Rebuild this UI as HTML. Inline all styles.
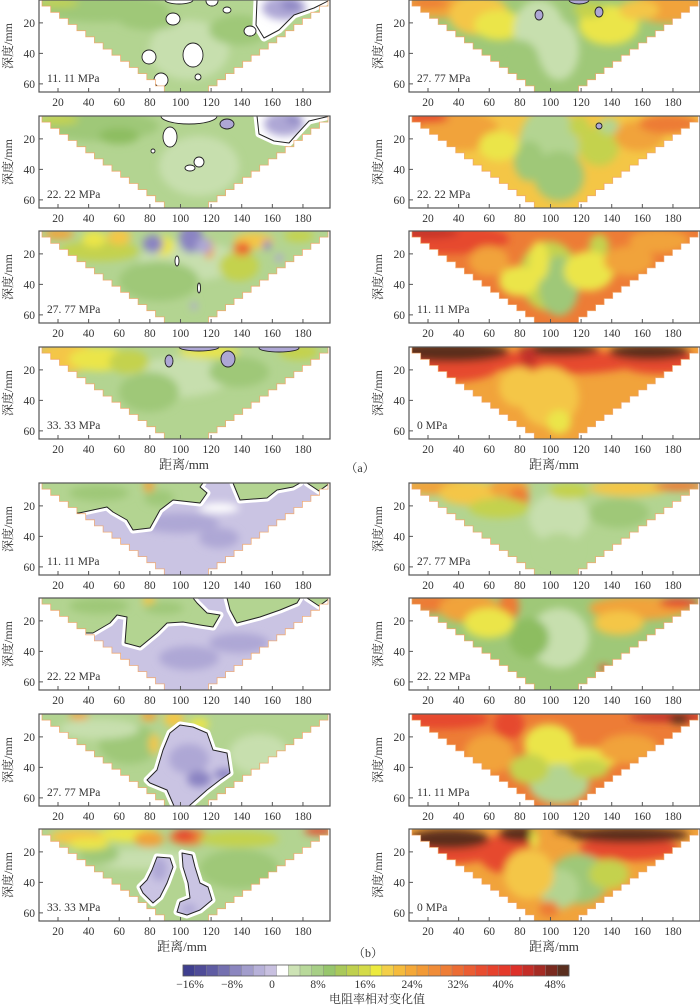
<!DOCTYPE html>
<html><head><meta charset="utf-8">
<style>
html,body{margin:0;padding:0;background:#fff;}
svg{display:block;}
text{font-family:"Liberation Serif","Noto Serif CJK SC",serif;fill:#333;}
</style></head>
<body>
<svg id="s" width="700" height="1005" viewBox="0 0 700 1005" xmlns="http://www.w3.org/2000/svg">
<defs>
<filter id="bl" filterUnits="userSpaceOnUse" x="-60" y="-60" width="420" height="220"><feGaussianBlur stdDeviation="4"/></filter>
</defs>
</svg>
<script>
const G1='#c7dfae',G2='#b3d491',G3='#9fc878',G4='#8dbd61',YG='#c4d24e',Y='#ebe548',YO='#f4c646',O='#f1a33b',OR='#ed7c36',R='#e64a2f',DR='#c2332a',BR='#5b2d1f',P1='#cac4e3',P2='#aea7d5',P3='#8a83c2',P4='#5e58a6',W='#ffffff';
const W_=291,H_=92;
function tri(){
 let pts=[],n=15;
 for(let i=0;i<n;i++){let y0=i*H_/n,y1=(i+1)*H_/n,x=3+131*i/n;pts.push([x,y0],[x,y1]);}
 let r=[];
 for(let i=n-1;i>=0;i--){let y0=i*H_/n,y1=(i+1)*H_/n,x=289-128*i/n;r.push([x,y1],[x,y0]);}
 return pts.concat(r).map(p=>p[0].toFixed(1)+','+p[1].toFixed(1)).join(' ');
}
const TRI=tri();
let id=0;
function panel(px,py,label,base,blobs,holes,polys){
 id++;
 let s=`<g transform="translate(${px},${py})">`;
 s+=`<clipPath id="c${id}"><polygon points="${TRI}"/></clipPath>`;
 s+=`<g clip-path="url(#c${id})"><rect x="0" y="0" width="${W_}" height="${H_}" fill="${base}"/><g filter="url(#bl)">`;
 for(const b of blobs)s+=`<ellipse cx="${b[0]}" cy="${b[1]}" rx="${b[2]}" ry="${b[3]}" fill="${b[4]}"/>`;
 s+=`</g>`;
 (polys||[]).forEach((p,k)=>{
  const pts=p.pts.map(q=>q.join(',')).join(' ');
  s+=`<polygon points="${pts}" fill="none" stroke="#fff" stroke-width="7" stroke-linejoin="round"/>`;
  s+=`<clipPath id="pc${id}_${k}"><polygon points="${pts}"/></clipPath>`;
  s+=`<polygon points="${pts}" fill="${p.fill}"/>`;
  if(p.inner){s+=`<g clip-path="url(#pc${id}_${k})"><g filter="url(#bl)">`;for(const b of p.inner)s+=`<ellipse cx="${b[0]}" cy="${b[1]}" rx="${b[2]}" ry="${b[3]}" fill="${b[4]}"/>`;s+=`</g></g>`;}
  s+=`<polygon points="${pts}" fill="none" stroke="#222" stroke-width="1" stroke-linejoin="round"/>`;
 });
 for(const h of (holes||[]))s+=`<ellipse cx="${h[0]}" cy="${h[1]}" rx="${h[2]}" ry="${h[3]}" fill="${h[4]||W}" stroke="#222" stroke-width="0.9"/>`;
 s+=`</g>`;
 s+=`<polygon points="${TRI}" fill="none" stroke="#f0a060" stroke-width="0.8" opacity="0.8"/>`;
 s+=`<rect x="0" y="0" width="${W_}" height="${H_}" fill="none" stroke="#555" stroke-width="1.2"/>`;
 for(let v=20;v<=180;v+=20){let x=19+(v-20)*1.531;s+=`<line x1="${x}" y1="${H_}" x2="${x}" y2="${H_-4}" stroke="#555"/>`;s+=`<text x="${x}" y="${H_+14}" font-size="11.5" text-anchor="middle">${v}</text>`;}
 for(const d of [20,40,60]){let y=(d-5)*1.525;s+=`<line x1="0" y1="${y}" x2="4" y2="${y}" stroke="#555"/>`;s+=`<text x="-4" y="${y+4}" font-size="11.5" text-anchor="end">${d}</text>`;}
 s+=`<text x="${-27}" y="${H_/2}" font-size="12" text-anchor="middle" transform="rotate(-90 ${-27} ${H_/2})">深度/mm</text>`;
 s+=`<text x="8" y="${H_-10}" font-size="11.5">${label}</text>`;
 s+=`</g>`;
 return s;
}
let out='';
const L=39,Rx=409;
// (a) left
out+=panel(L,0,'11. 11 MPa',G2,[[60,8,70,14,G3],[20,3,20,4,YG],[150,50,40,30,G1],[110,20,30,10,G3],[200,30,30,15,G3]],
 [[134,19,7,6],[154,55,10,12],[110,57,7,7],[211,31,6,5],[159,77,3,3],[140,0,14,4],[173,1,6,5],[188,10,4,3],[122,80,7,7]],
 [{pts:[[218,0],[217,25],[225,38],[240,30],[255,15],[275,8],[291,0]],fill:W,inner:[[245,8,22,12,P2],[252,5,10,5,P3]]}]);
out+=panel(L,116,'22. 22 MPa',G2,[[60,10,60,15,G3],[20,4,20,5,YG],[80,20,20,8,G4],[160,50,40,30,G1]],
 [[150,0,28,8],[131,21,7,10],[188,8,7,5,P2],[114,35,2,2],[160,46,5,5],[151,52,5,3]],
 [{pts:[[218,0],[220,18],[235,25],[250,27],[258,18],[270,5],[291,0]],fill:W,inner:[[245,8,20,12,P2],[255,3,8,4,P3]]}]);
out+=panel(L,231,'27. 77 MPa',G2,[[60,20,40,10,YG],[150,30,50,20,G1],[120,50,40,20,G3],[200,35,20,15,YG],[20,3,15,5,O],[55,8,12,8,Y],[80,6,12,8,YO],[125,15,10,10,Y],[170,18,5,10,O],[215,10,20,8,YO],[203,18,9,7,OR],[205,17,4,4,R],[260,5,15,6,YG],[114,13,10,9,P3],[152,8,12,14,P3],[165,15,8,8,P2],[228,14,4,5,P3],[240,27,4,4,P2],[155,75,3,4,P2]],
 [[138,30,2,5],[160,57,1.5,5]],[]);
out+=panel(L,347,'33. 33 MPa',G2,[[140,30,50,20,G1],[110,45,30,20,G3],[200,25,30,15,G3],[25,4,25,8,O],[30,10,30,15,YO],[60,12,30,12,Y],[90,15,20,12,YG],[260,5,20,8,YG],[170,5,30,6,Y]],
 [[130,14,4,6,P2],[189,12,7,8,P2],[160,0,20,4,P2],[240,1,20,4,P2]],[]);
// (a) right
out+=panel(Rx,0,'27. 77 MPa',G3,[[30,6,40,12,O],[20,3,20,5,OR],[70,15,30,20,YO],[90,25,25,15,Y],[130,30,25,30,G1],[150,50,20,30,G1],[200,25,30,20,Y],[260,8,40,15,O],[230,10,20,10,YO],[180,10,15,8,YG],[110,60,20,20,G3]],
 [[130,15,4,5,P2],[190,12,4,5,P2],[170,0,10,4,P2]],[]);
out+=panel(Rx,116,'22. 22 MPa',YO,[[30,5,40,15,OR],[50,15,40,20,O],[20,2,20,5,R],[140,30,30,40,G2],[150,60,25,25,G3],[120,45,15,20,G3],[190,30,20,20,YG],[230,20,25,15,O],[260,8,30,10,OR],[200,10,10,8,G2],[90,30,20,15,Y],[170,10,10,10,YG]],[[190,10,3,3,P2]],[]);
out+=panel(Rx,231,'11. 11 MPa',OR,[[40,8,60,15,R],[20,2,30,5,DR],[140,45,30,35,YG],[150,55,20,30,G3],[130,30,10,20,Y],[190,15,10,12,YG],[110,50,20,15,Y],[250,10,30,12,O],[180,40,25,20,Y],[80,30,20,15,O],[220,30,25,15,O]],[],[]);
out+=panel(Rx,347,'0 MPa',O,[[40,20,50,15,R],[150,15,80,12,R],[250,15,40,12,R],[40,5,60,10,BR],[150,3,40,6,BR],[240,5,40,8,BR],[140,50,30,30,YO],[110,40,20,20,YO],[150,75,12,12,Y],[120,10,8,10,DR]],[],[]);
// (b) left
out+=panel(L,483,'11. 11 MPa',P1,[[140,40,40,10,P2],[180,55,20,10,P2],[180,25,20,5,W]],[],
 [{pts:[[0,0],[164,0],[161,4],[168,10],[161,20],[134,17],[121,27],[111,45],[94,47],[88,37],[74,29],[68,24],[40,30],[0,30]],fill:G2,inner:[[110,3,5,7,O],[60,10,30,8,G3],[120,15,15,8,G3]]},
  {pts:[[194,0],[201,17],[228,15],[238,7],[254,4],[261,0]],fill:G2},
  {pts:[[268,0],[291,0],[280,8]],fill:G2}]);
out+=panel(L,598,'22. 22 MPa',P1,[[150,60,30,12,P2],[200,45,30,10,P2]],[],
 [{pts:[[0,0],[154,0],[158,5],[168,15],[181,17],[174,29],[161,27],[144,24],[128,25],[118,35],[101,49],[86,45],[88,19],[78,17],[71,25],[54,35],[0,35]],fill:G2,inner:[[110,3,6,6,YO],[60,8,30,8,G3],[125,10,20,6,G3]]},
  {pts:[[188,0],[191,12],[198,25],[221,19],[241,12],[258,5],[261,0]],fill:G2},
  {pts:[[268,0],[291,0],[280,8]],fill:G2}]);
out+=panel(L,714,'27. 77 MPa',G2,[[90,30,30,20,G3],[220,40,30,20,G1],[60,15,40,10,G1],[40,2,10,4,O],[110,2,8,5,O],[135,5,10,8,YO],[160,10,10,6,Y],[115,30,5,10,YO]],[],
 [{pts:[[141,11],[154,13],[168,19],[174,36],[188,39],[191,59],[181,66],[168,76],[150,92],[135,92],[128,76],[111,69],[108,66],[118,56],[124,36],[131,19]],fill:P1,inner:[[150,45,20,15,P2],[160,65,12,8,P3],[185,60,10,5,P3]]}]);
out+=panel(L,829,'33. 33 MPa',G2,[[100,30,50,10,G1],[200,40,40,20,G3],[60,25,20,10,G3],[40,8,30,8,YO],[90,5,30,8,Y],[150,8,20,8,OR],[145,6,10,6,R],[110,10,15,8,O],[50,15,20,6,Y],[200,10,40,8,YG],[280,2,15,4,R]],[],
 [{pts:[[118,28],[131,29],[134,38],[128,54],[121,68],[114,74],[104,64],[101,58],[108,51],[113,41]],fill:P1,inner:[[120,40,8,12,P2]]},
  {pts:[[143,24],[153,26],[156,38],[161,54],[169,58],[173,71],[161,81],[148,86],[138,83],[141,73],[151,69],[149,54],[144,38]],fill:P1,inner:[[150,80,8,5,P2]]}]);
// (b) right
out+=panel(Rx,483,'27. 77 MPa',G2,[[150,35,30,25,G1],[80,20,20,10,G3],[210,30,30,15,G3],[150,65,20,15,G2],[30,4,40,8,O],[60,10,30,12,YO],[100,5,20,10,O],[110,15,10,10,OR],[160,8,20,8,YG],[220,5,40,8,YO],[270,3,25,5,OR],[90,25,30,10,YG]],[],[]);
out+=panel(Rx,598,'22. 22 MPa',G3,[[30,5,40,10,OR],[60,10,30,15,O],[100,8,10,15,OR],[80,25,25,15,Y],[150,40,30,30,G1],[230,10,50,12,O],[270,5,20,5,R],[210,25,25,12,YO],[120,40,20,20,G4],[195,70,6,3,R]],[],[]);
out+=panel(Rx,714,'11. 11 MPa',OR,[[30,5,50,10,R],[100,10,15,15,R],[260,3,40,5,DR],[270,5,10,5,BR],[140,30,25,20,Y],[170,45,40,12,Y],[150,70,30,20,G2],[180,55,20,10,YG],[120,55,20,15,YG],[80,40,25,20,O],[220,35,30,15,O]],[],[]);
out+=panel(Rx,829,'0 MPa',O,[[40,20,50,15,R],[100,25,30,20,R],[220,20,50,12,R],[40,10,40,10,BR],[110,5,20,8,BR],[220,6,60,8,BR],[160,2,15,3,BR],[170,50,30,25,G3],[150,60,20,20,G2],[200,45,20,15,YG],[125,10,4,10,Y],[120,45,25,25,YO],[140,80,10,8,OR]],[],[]);
// axis labels
out+=`<text x="184" y="469" font-size="13" text-anchor="middle">距离/mm</text><text x="554" y="469" font-size="13" text-anchor="middle">距离/mm</text>`;
out+=`<text x="360" y="472" font-size="12" text-anchor="middle">（a）</text>`;
out+=`<text x="182" y="951" font-size="13" text-anchor="middle">距离/mm</text><text x="554" y="951" font-size="13" text-anchor="middle">距离/mm</text>`;
out+=`<text x="368" y="957" font-size="12" text-anchor="middle">（b）</text>`;
// colorbar
const cb=['#3f3f8f','#4f4c98','#5f5ca3','#7470b0','#8b86bf','#a29dcc','#b7b1d9','#c8c0e0','#ffffff','#cde3b5','#b8d99a','#a7cf86','#97c66c','#a9c95a','#bfd04e','#d4db48','#ecea3e','#f3cf49','#f5bb3c','#f4a838','#f29a36','#f08c38','#ee7d36','#ec6c34','#ea5d33','#e84d30','#e6422d','#e43a2b','#dd3029','#c42d27','#a52b24','#7a2a1f','#5a2e1e'];
const cx0=183,cw=386/cb.length;
cb.forEach((c,i)=>{out+=`<rect x="${(cx0+i*cw).toFixed(2)}" y="965" width="${(cw+0.3).toFixed(2)}" height="11" fill="${c}"/>`;});
for(let i=0;i<=cb.length;i++){out+=`<line x1="${(cx0+i*cw).toFixed(2)}" y1="965" x2="${(cx0+i*cw).toFixed(2)}" y2="976" stroke="#888" stroke-width="0.4"/>`;}
out+=`<rect x="${cx0}" y="965" width="386" height="11" fill="none" stroke="#555" stroke-width="0.8"/>`;
[['−16%',190],['−8%',232],['0',272],['8%',318],['16%',365],['24%',412],['32%',458],['40%',503],['48%',555]].forEach(t=>{out+=`<text x="${t[1]}" y="988" font-size="11.5" text-anchor="middle">${t[0]}</text>`;});
out+=`<text x="377" y="1003" font-size="12" text-anchor="middle">电阻率相对变化值</text>`;
document.getElementById('s').insertAdjacentHTML('beforeend',out);
</script>
</body></html>
